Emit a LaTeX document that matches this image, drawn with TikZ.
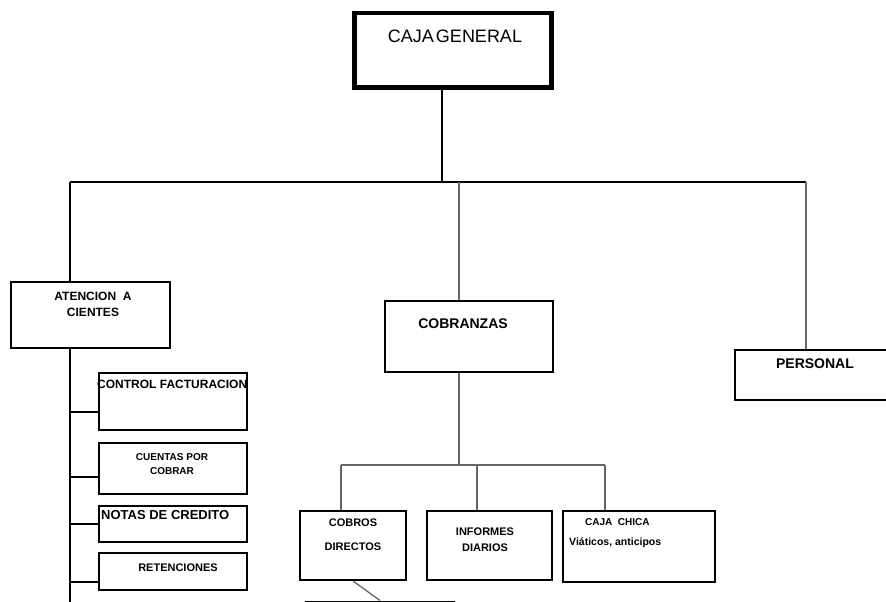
\documentclass[tikz,border=0pt]{standalone}
\usepackage{fontspec}
\setmainfont{Liberation Sans}
\usetikzlibrary{positioning}

\begin{document}
\begin{tikzpicture}[x=1pt, y=-1pt,
	box/.style={draw, line width=2pt, anchor=north west, inner sep=0pt},
	txt/.style={font=\bfseries\fontsize{11}{13}\selectfont, align=center, inner sep=0pt},
	link/.style={line width=1.8pt},
	glink/.style={line width=1.3pt, draw=black!60}]
	\useasboundingbox (0,0) rectangle (886,602);

	% Boxes
	\node [box, line width=4.5pt, minimum width=197pt, minimum height=74pt] (cg)  at (352,11)  {};
	\node [box, minimum width=159pt, minimum height=66pt] (at)  at (10,281)  {};
	\node [box, minimum width=148pt, minimum height=57pt] (cf)  at (98,372)  {};
	\node [box, minimum width=148pt, minimum height=51pt] (cp)  at (98,442)  {};
	\node [box, minimum width=148pt, minimum height=36pt] (nc)  at (98,505)  {};
	\node [box, minimum width=148pt, minimum height=37pt] (ret) at (98,552)  {};
	\node [box, minimum width=168pt, minimum height=71pt] (cob) at (384,300) {};
	\node [box, minimum width=161pt, minimum height=50pt] (per) at (734,349) {};
	\node [box, minimum width=106pt, minimum height=69pt] (cd)  at (299,510) {};
	\node [box, minimum width=125pt, minimum height=69pt] (inf) at (426,510) {};
	\node [box, minimum width=152pt, minimum height=71pt] (cc)  at (562,510) {};
	\node [box, line width=3pt, minimum width=147pt, minimum height=40pt] (sub) at (305,600.5) {};

	% Texts
	\node [txt, font=\fontsize{18}{21}\selectfont] (cgt) at (455,36) {CAJA\hspace{2pt}GENERAL};
	\node [txt, font=\bfseries\fontsize{12}{16}\selectfont] (att) at (93,304) {ATENCION\ \ A\\CIENTES};
	\node [txt, anchor=west, font=\bfseries\fontsize{12}{13}\selectfont] (cft) at (97,384) {CONTROL FACTURACION};
	\node [txt, font=\bfseries\fontsize{10}{14}\selectfont] (cpt) at (172,464) {CUENTAS POR\\COBRAR};
	\node [txt, anchor=west, font=\bfseries\fontsize{13}{15}\selectfont] (nct) at (101,515) {NOTAS DE CREDITO};
	\node [txt] (rett) at (178,568) {RETENCIONES};
	\node [txt, font=\bfseries\fontsize{14}{16}\selectfont] (cobt) at (463,324) {COBRANZAS};
	\node [txt, font=\bfseries\fontsize{14}{16}\selectfont] (pert) at (815,364) {PERSONAL};
	\node [txt, font=\bfseries\fontsize{11}{24}\selectfont] (cdt) at (353,535) {COBROS\\DIRECTOS};
	\node [txt, font=\bfseries\fontsize{11}{16}\selectfont] (inft) at (485,540) {INFORMES\\DIARIOS};
	\node [txt, anchor=west, font=\bfseries\fontsize{10}{12}\selectfont] (cct) at (585,522) {CAJA\ \ CHICA};
	\node [txt, anchor=west, font=\bfseries\fontsize{10.5}{12}\selectfont] (cvt) at (569,543) {Viáticos, anticipos};

	% Junctions
	\coordinate (j1) at (442,182);
	\coordinate (jL) at (70,182);
	\coordinate (jM) at (459,182);
	\coordinate (jR) at (806,182);
	\coordinate (jB) at (70,602);
	\coordinate (k)  at (459,465);
	\coordinate (kL) at (341,465);
	\coordinate (kM) at (477,465);
	\coordinate (kR) at (605,465);

	% Paths
	\draw [link, line width=2.2pt] (cg.south -| j1) -- (j1);
	\draw [link] (jL) -- (jR);
	\draw [link] (jL) -- (jL |- at.north);
	\draw [glink] (jM) -- (jM |- cob.north);
	\draw [glink] (jR) -- (jR |- per.north);

	\draw [link] (jL |- at.south) -- (jB);
	\draw [link] ([yshift=-10.5pt]cf.west) -- ([yshift=-10.5pt]cf.west -| jL);
	\draw [link] ([yshift=-8.5pt]cp.west)  -- ([yshift=-8.5pt]cp.west -| jL);
	\draw [link] (nc.west) -- (nc.west -| jL);
	\draw [link] ([yshift=-10.5pt]ret.west) -- ([yshift=-10.5pt]ret.west -| jL);

	\draw [glink] (cob.south -| k) -- (k);
	\draw [glink] (kL) -- (kR);
	\draw [glink] (kL) -- (kL |- cd.north);
	\draw [glink] (kM) -- (kM |- inf.north);
	\draw [glink] (kR) -- (kR |- cc.north);
	\draw [glink] (cd.south) -- (sub.north);
\end{tikzpicture}
\end{document}
